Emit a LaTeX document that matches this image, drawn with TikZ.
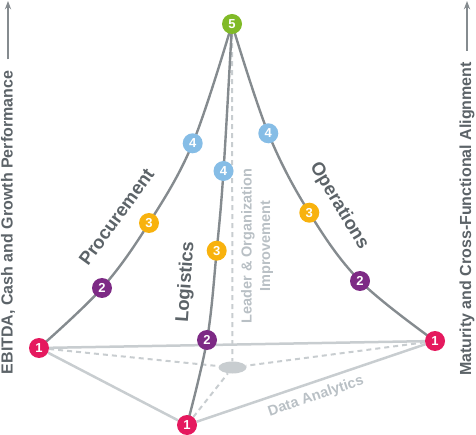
\documentclass[tikz,border=0pt]{standalone}
\usepackage{fontspec}
\setmainfont{Liberation Sans}
\usetikzlibrary{arrows.meta, backgrounds, shapes.geometric}
\definecolor{stageone}{HTML}{E5195E}
\definecolor{stagetwo}{HTML}{7D2A85}
\definecolor{stagethree}{HTML}{F8B20E}
\definecolor{stagefour}{HTML}{86BDE6}
\definecolor{stagefive}{HTML}{80BA27}
\definecolor{edgegray}{HTML}{858B8F}
\definecolor{basegray}{HTML}{C8CDD0}
\definecolor{labelgray}{HTML}{5C6368}
\definecolor{softgray}{HTML}{B9C0C5}

\begin{document}
\begin{tikzpicture}[
    x=1pt, y=-1pt,
    >=Stealth,
    stage/.style={circle, fill=#1, text=white, inner sep=0pt, minimum size=20pt,
                  font=\bfseries\fontsize{13}{13}\selectfont},
    edge/.style={draw=edgegray, line width=2.4pt},
    base/.style={draw=basegray, line width=2.5pt},
    hidden/.style={draw=basegray, line width=2pt, dash pattern=on 5pt off 4pt},
    face/.style={text=labelgray, font=\bfseries\fontsize{18.5}{18.5}\selectfont},
    soft/.style={text=softgray, font=\bfseries\fontsize{14.5}{18.5}\selectfont, align=center},
    axislabel/.style={text=labelgray, rotate=90, font=\bfseries\fontsize{16}{16}\selectfont},
]
\useasboundingbox (0,0) rectangle (476,435);

% Apex and base corners
\node[stage=stagefive] (apex) at (232,24) {5};
\node[stage=stageone] (procone) at (39,348) {1};
\node[stage=stageone] (logone) at (187,425) {1};
\node[stage=stageone] (opone) at (435,341) {1};
\node[ellipse, fill=basegray, minimum width=28pt, minimum height=12pt, inner sep=0pt]
    (hub) at (232.5,367.5) {};

% Stages along the three edges
\node[stage=stagetwo] (proctwo) at (102,288) {2};
\node[stage=stagethree] (procthree) at (149,223) {3};
\node[stage=stagefour] (procfour) at (192.7,143.3) {4};
\node[stage=stagetwo] (logtwo) at (207,340) {2};
\node[stage=stagethree] (logthree) at (216.7,250.7) {3};
\node[stage=stagefour] (logfour) at (223.5,171) {4};
\node[stage=stagetwo] (optwo) at (360,281) {2};
\node[stage=stagethree] (opthree) at (309.3,212.7) {3};
\node[stage=stagefour] (opfour) at (268.3,133.3) {4};

% Edge names
\node[face, rotate=54] (proclabel) at (116.5,217) {Procurement};
\node[face, rotate=86] (loglabel) at (186,282) {Logistics};
\node[face, rotate=-59] (oplabel) at (339,206) {Operations};
\node[soft, rotate=90] (leadlabel) at (257,246) {Leader \& Organization\\Improvement};
\node[soft, rotate=18.7] (datalabel) at (316,396.5) {Data Analytics};

% Axes
\node[axislabel] (yleft) at (8,222.5) {EBITDA, Cash and Growth Performance};
\node[axislabel] (yright) at (467,219) {Maturity and Cross-Functional Alignment};
\coordinate (lefttip) at (8,1);
\coordinate (righttip) at (467,1);
\draw[->, edgegray, line width=1.2pt, shorten <=8pt] (yleft.east) -- (lefttip);
\draw[->, edgegray, line width=1.2pt, shorten <=8pt] (yright.east) -- (righttip);

\begin{scope}[on background layer]
    % base triangle
    \draw[base] (procone) -- (opone);
    \draw[base] (procone) -- (logone);
    \draw[base] (logone) -- (opone);
    % hidden lines to the centre
    \draw[hidden] (procone) -- (hub);
    \draw[hidden] (opone) -- (hub);
    \draw[hidden] (logone) -- (hub);
    \draw[hidden] (apex) -- (hub);
    % curved edges
    \draw[edge] plot[smooth, tension=0.6] coordinates {(apex) (procfour) (procthree) (proctwo) (procone)};
    \draw[edge] plot[smooth, tension=0.6] coordinates {(apex) (logfour) (logthree) (logtwo) (logone)};
    \draw[edge] plot[smooth, tension=0.6] coordinates {(apex) (opfour) (opthree) (optwo) (opone)};
\end{scope}

\end{tikzpicture}
\end{document}
